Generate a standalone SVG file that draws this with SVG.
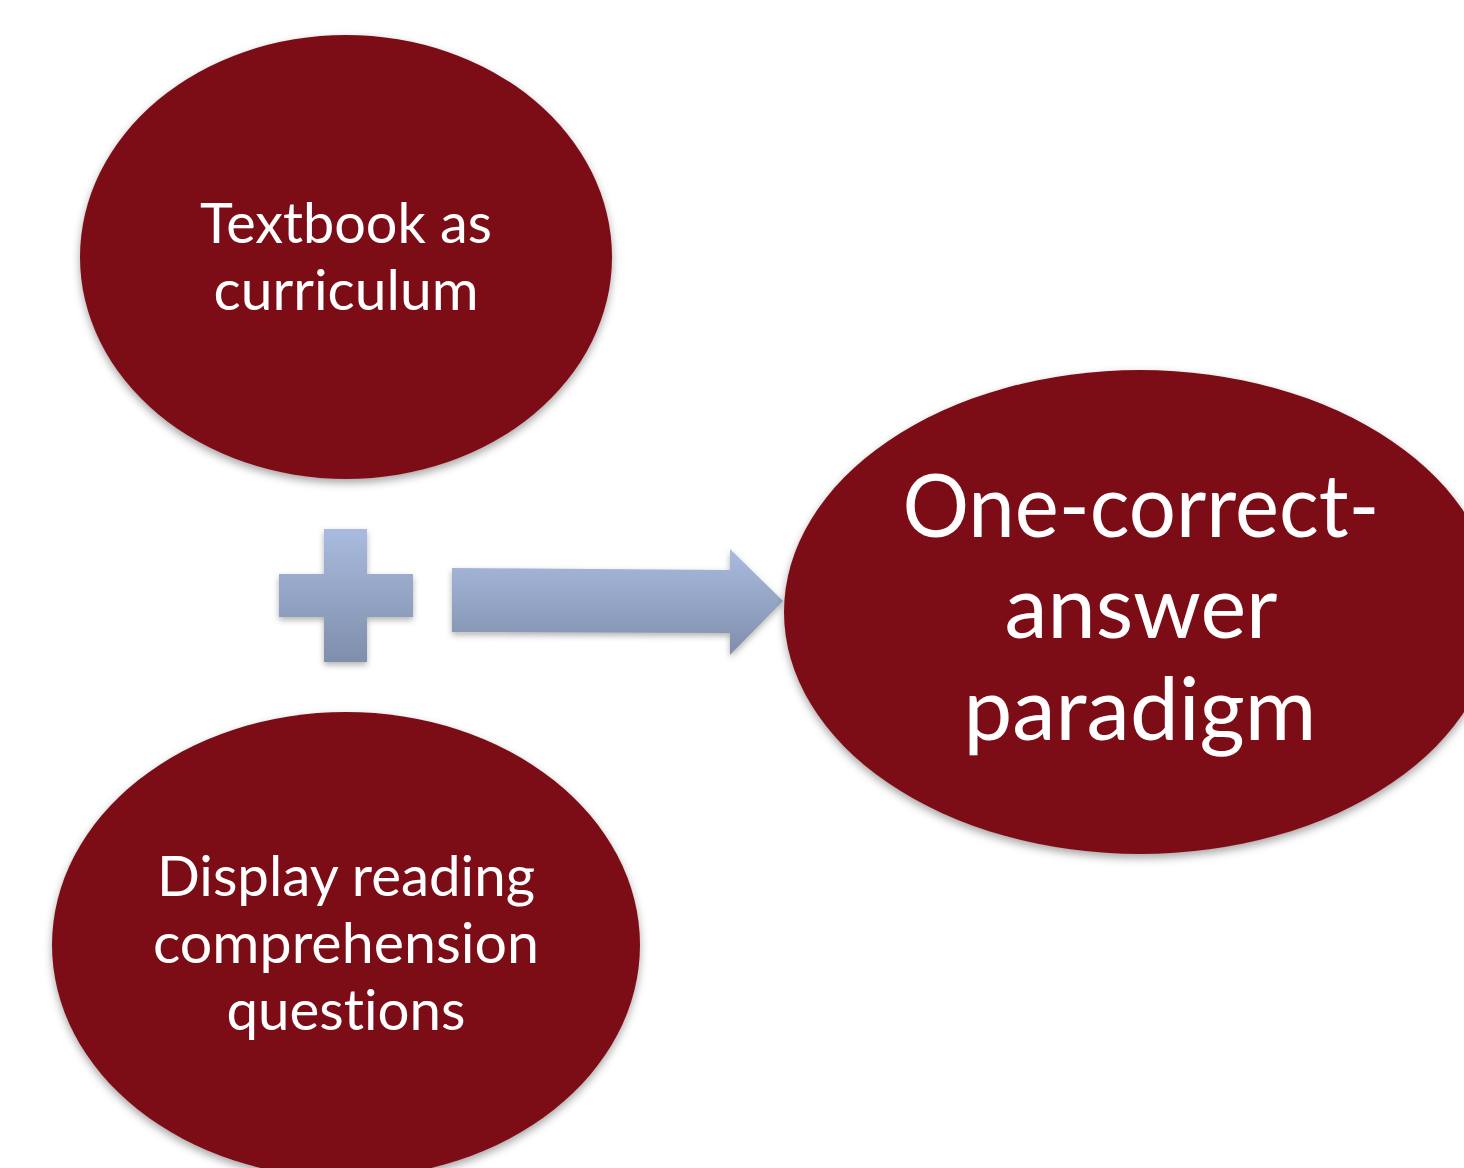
<svg xmlns="http://www.w3.org/2000/svg" width="1464" height="1168" viewBox="0 0 1464 1168">
<style>
.node{fill:#7b0f17;filter:url(#sh);}
.lbl{fill:#ffffff;font-family:Lato,"Open Sans","Noto Sans",sans-serif;text-anchor:middle;font-variant-ligatures:none;font-feature-settings:"liga" 0,"dlig" 0;}
.s{font-size:56px;}
.b{font-size:88px;}
.conn{fill:url(#bluegrad);filter:url(#sh2);}
</style>
<defs>
<filter id="sh" x="-10%" y="-10%" width="120%" height="125%">
<feDropShadow dx="0" dy="4" stdDeviation="4" flood-color="#000" flood-opacity="0.35"/>
</filter>
<filter id="sh2" x="-10%" y="-10%" width="120%" height="130%">
<feDropShadow dx="0" dy="3" stdDeviation="3" flood-color="#000" flood-opacity="0.3"/>
</filter>
<linearGradient id="bluegrad" x1="0" y1="0" x2="0" y2="1">
<stop offset="0" stop-color="#a9bbdf"/>
<stop offset="1" stop-color="#7f8eab"/>
</linearGradient>
</defs>
<rect width="1464" height="1168" fill="#ffffff"/>
<g id="connectors">
<path id="plus" class="conn" d="M324,529 H367 V574 H413 V617 H367 V662 H324 V617 H279 V574 H324 Z"/>
<polygon id="arrow" class="conn" points="452,568 730,570 730,549 783,601 730,655 730,633 452,632"/>
</g>
<g id="node-textbook">
<ellipse class="node" cx="346" cy="257" rx="266" ry="222"/>
<text class="lbl s" x="346" y="243" textLength="292" lengthAdjust="spacingAndGlyphs">Textbook as</text>
<text class="lbl s" x="346" y="310" textLength="265" lengthAdjust="spacingAndGlyphs">curriculum</text>
</g>
<g id="node-display">
<ellipse class="node" cx="346" cy="945" rx="294" ry="233"/>
<text class="lbl s" x="346" y="896" textLength="378" lengthAdjust="spacingAndGlyphs">Display reading</text>
<text class="lbl s" x="346" y="963" textLength="386" lengthAdjust="spacingAndGlyphs">comprehension</text>
<text class="lbl s" x="346" y="1030" textLength="239" lengthAdjust="spacingAndGlyphs">questions</text>
</g>
<g id="node-paradigm">
<ellipse class="node" cx="1140" cy="612" rx="356" ry="242"/>
<text class="lbl b" x="1141" y="537" textLength="477" lengthAdjust="spacingAndGlyphs">One-correct-</text>
<text class="lbl b" x="1141" y="638" textLength="273" lengthAdjust="spacingAndGlyphs">answer</text>
<text class="lbl b" x="1140" y="740" textLength="353" lengthAdjust="spacingAndGlyphs">paradigm</text>
</g>
</svg>
